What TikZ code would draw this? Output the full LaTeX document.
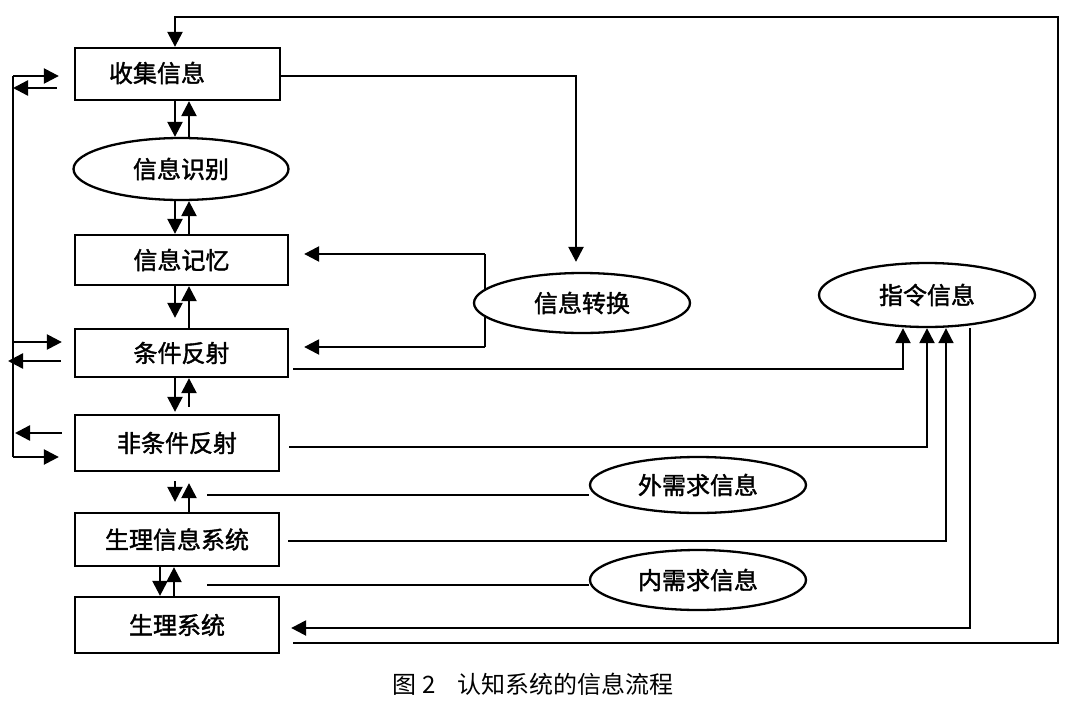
\documentclass[tikz,border=0pt]{standalone}
\usepackage{fontspec}
\newfontfamily\cjk{Noto Sans CJK SC}
\newfontfamily\cjkm{Noto Sans CJK SC}[FakeBold=1.6]
\usetikzlibrary{arrows.meta,shapes.geometric,calc}
\begin{document}
\begin{tikzpicture}[x=1pt,y=-1pt,
  lbl/.style={font={\cjkm\fontsize{24}{24}\selectfont}, inner sep=0pt},
  box/.style={draw, line width=2.3pt, rectangle, inner sep=0pt, lbl},
  ell/.style={draw, line width=2.3pt, ellipse, inner sep=0pt, fill=white, lbl},
  ln/.style={line width=2.4pt},
  thinln/.style={line width=1.8pt},
  arr/.style={ln, -{Triangle[length=15pt,width=15pt]}},
  thinarr/.style={thinln, -{Triangle[length=15pt,width=15pt]}},
]
\useasboundingbox (0,0) rectangle (1080,710);

% helper coordinates
\coordinate (xd) at (175,0);
\coordinate (xu) at (189,0);
\coordinate (xd2) at (160,0);
\coordinate (xu2) at (174,0);
\coordinate (tx) at (576,0);
\coordinate (z1) at (903,0);
\coordinate (z2) at (927,0);
\coordinate (z3) at (946,0);
\coordinate (z4) at (970,0);
\coordinate (xw) at (207,0);
\coordinate (yd) at (0,369);
\coordinate (ye) at (0,447);
\coordinate (yf) at (0,541);
\coordinate (yg) at (0,628);
\coordinate (yw) at (0,495);
\coordinate (yn) at (0,585);
\coordinate (L1) at (13,76);
\coordinate (l1b) at (13,88);
\coordinate (l2a) at (13,342);
\coordinate (l2b) at (8,361);
\coordinate (l3a) at (15,433);
\coordinate (L2) at (13,457);
\coordinate (R1) at (1058,17);
\coordinate (R2) at (1058,643);
\coordinate (t1) at (485,254);
\coordinate (t2) at (485,347);

% boxes
\node[box, minimum width=205pt, minimum height=52pt] (A) at (177.5,74) {};
\node[lbl] (At) at (157,73) {收集信息};
\node[box, minimum width=213pt, minimum height=50pt] (C) at (181.5,260) {信息记忆};
\node[box, minimum width=213pt, minimum height=48pt] (D) at (181.5,353) {条件反射};
\node[box, minimum width=204pt, minimum height=56pt] (E) at (177,443) {非条件反射};
\node[box, minimum width=204pt, minimum height=53pt] (F) at (177,539.5) {生理信息系统};
\node[box, minimum width=204pt, minimum height=56pt] (G) at (177,625) {生理系统};

% vertical line behind 信息转换
\draw[ln] (t1) -- (t2);

% ellipses
\node[ell, minimum width=215pt, minimum height=62pt] (B) at (181,169) {信息识别};
\node[ell, minimum width=216pt, minimum height=60pt] (T) at (582,303) {信息转换};
\node[ell, minimum width=216pt, minimum height=64pt] (Z) at (927,295) {指令信息};
\node[ell, minimum width=216pt, minimum height=56pt] (W) at (698,485) {外需求信息};
\node[ell, minimum width=216pt, minimum height=60pt] (N) at (698,580) {内需求信息};

% vertical pairs
\draw[arr] (A.south -| xd) -- (B.north -| xd);
\draw[arr] (B.north -| xu) -- (A.south -| xu);
\draw[arr] (B.south -| xd) -- (C.north -| xd);
\draw[arr] (C.north -| xu) -- (B.south -| xu);
\draw[arr, shorten >=10pt] (C.south -| xd) -- (D.north -| xd);
\draw[arr] (D.north -| xu) -- (C.south -| xu);
\draw[arr, shorten >=2pt] (D.south -| xd) -- (E.north -| xd);
\draw[arr, shorten <=7pt] (E.north -| xu) -- (D.south -| xu);
\draw[arr, shorten <=9pt, shorten >=10pt] (E.south -| xd) -- (F.north -| xd);
\draw[arr, shorten >=11pt] (F.north -| xu) -- (E.south -| xu);
\draw[arr] (F.south -| xd2) -- (G.north -| xd2);
\draw[arr] (G.north -| xu2) -- (F.south -| xu2);

% left loop
\draw[ln] (L1) -- (L2);
\draw[arr, shorten >=15pt] (L1) -- (A.west |- L1);
\draw[arr, shorten <=17pt] (A.west |- l1b) -- (l1b);
\draw[arr, shorten >=12pt] (l2a) -- (D.west |- l2a);
\draw[arr, shorten <=13pt] (D.west |- l2b) -- (l2b);
\draw[arr, shorten <=12pt] (E.west |- l3a) -- (l3a);
\draw[arr, shorten >=15pt] (L2) -- (E.west |- L2);

% big outer loop
\draw[arr, shorten <=13pt] (G.east |- R2) -- (R2) -- (R1) -- (R1 -| xd) -- (A.north -| xd);

% 收集信息 -> 信息转换
\draw[arr, shorten >=10pt] (A.east |- L1) -| (T.north -| tx);

% 信息转换 -> 信息记忆, 条件反射
\draw[arr, shorten >=15pt] (t1) -- (C.east |- t1);
\draw[arr, shorten >=15pt] (t2) -- (D.east |- t2);

% to 指令信息
\draw[arr, shorten <=4pt] (D.east |- yd) -| (Z.south -| z1);
\draw[arr, shorten <=9pt] (E.east |- ye) -| (Z.south -| z2);
\draw[thinarr, shorten <=8pt] (F.east |- yf) -| (Z.south -| z3);

% 指令信息 -> 生理系统
\draw[arr, shorten >=11pt] (Z.south -| z4) -- (z4 |- yg) -- (G.east |- yg);

% need lines
\draw[thinln] (W.west |- yw) -- (xw |- yw);
\draw[thinln] (N.west |- yn) -- (xw |- yn);

% caption
\node[font={\cjk\fontsize{24}{24}\selectfont}, inner sep=0pt] (cap) at (533,684) {图 2\hspace{0.9em}认知系统的信息流程};
\end{tikzpicture}
\end{document}
